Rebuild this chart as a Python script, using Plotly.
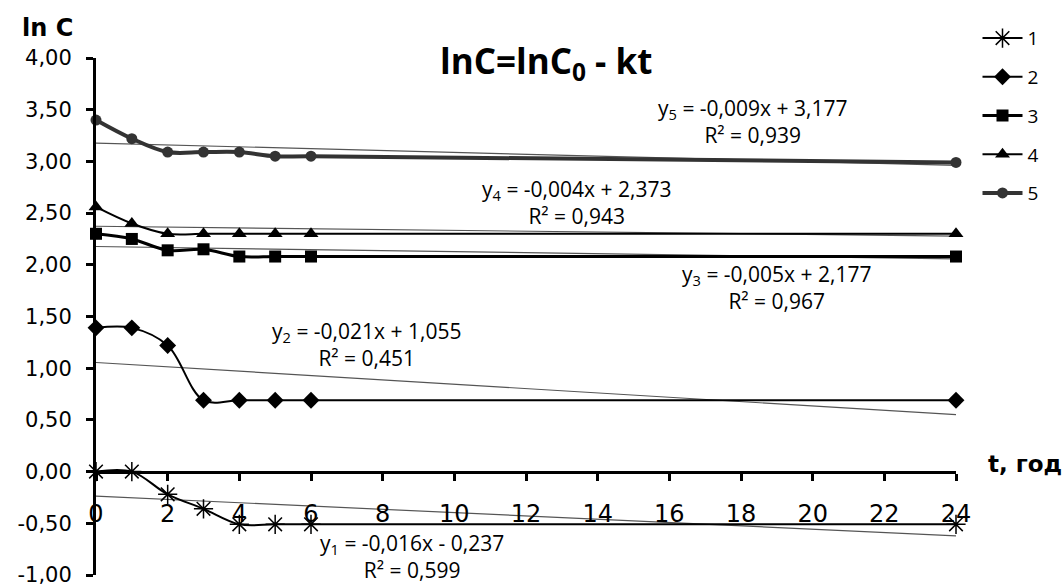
import plotly.graph_objects as go

# Time points, hours
t = [0, 1, 2, 3, 4, 5, 6, 24]

# ln C for each series
ln_c = {
    "1": [0.00, 0.00, -0.22, -0.36, -0.51, -0.51, -0.51, -0.51],
    "2": [1.39, 1.39, 1.22, 0.69, 0.69, 0.69, 0.69, 0.69],
    "3": [2.30, 2.25, 2.14, 2.15, 2.08, 2.08, 2.08, 2.08],
    "4": [2.56, 2.40, 2.30, 2.30, 2.30, 2.30, 2.30, 2.30],
    "5": [3.40, 3.22, 3.09, 3.09, 3.09, 3.05, 3.05, 2.99],
}

# Linear trend coefficients (slope, intercept) and R^2
trend_slope = {"1": -0.016, "2": -0.021, "3": -0.005, "4": -0.004, "5": -0.009}
trend_icpt = {"1": -0.237, "2": 1.055, "3": 2.177, "4": 2.373, "5": 3.177}
trend_r2 = {"1": 0.599, "2": 0.451, "3": 0.967, "4": 0.943, "5": 0.939}

# Label anchor (t, ln C) for each trend equation
eq_pos = {
    "1": (8.82, -0.82),
    "2": (7.54, 1.23),
    "3": (19.0, 1.78),
    "4": (13.42, 2.60),
    "5": (18.31, 3.39),
}

x_ticks = list(range(0, 25, 2))
y_ticks = [-1.0, -0.5, 0.0, 0.5, 1.0, 1.5, 2.0, 2.5, 3.0, 3.5, 4.0]


def fmt(v, nd=2):
    return f"{v:.{nd}f}".replace(".", ",")


styles = {
    "1": dict(line=dict(color="black", width=2),
              marker=dict(symbol="asterisk-open", size=16,
                          line=dict(color="#777777", width=1.5))),
    "2": dict(line=dict(color="black", width=2),
              marker=dict(symbol="diamond", size=13, color="black")),
    "3": dict(line=dict(color="black", width=3),
              marker=dict(symbol="square", size=12, color="black")),
    "4": dict(line=dict(color="black", width=2),
              marker=dict(symbol="triangle-up", size=13, color="black")),
    "5": dict(line=dict(color="#333333", width=4),
              marker=dict(symbol="circle", size=11, color="#333333")),
}

fig = go.Figure()

# Trend lines
for k in ln_c:
    xs = [t[0], t[-1]]
    ys = [trend_icpt[k] + trend_slope[k] * x for x in xs]
    fig.add_trace(go.Scatter(
        x=xs, y=ys, mode="lines", showlegend=False, hoverinfo="skip",
        line=dict(color="#555555", width=1.2),
    ))

# Measured series (smoothed)
for k in ln_c:
    st = styles[k]
    fig.add_trace(go.Scatter(
        x=t, y=ln_c[k], name=k, mode="lines+markers", legendgroup=k,
        line=dict(shape="spline", smoothing=1.0, **st["line"]),
        marker=st["marker"], cliponaxis=False,
    ))

eq_font = dict(family="Open Sans", size=21, color="black")
for k in ln_c:
    sign = "+" if trend_icpt[k] >= 0 else "-"
    text = (f"y<sub>{k}</sub> = -{fmt(abs(trend_slope[k]), 3)}x {sign} "
            f"{fmt(abs(trend_icpt[k]), 3)}<br>R² = {fmt(trend_r2[k], 3)}")
    x0, y0 = eq_pos[k]
    fig.add_annotation(x=x0, y=y0, text=text, showarrow=False,
                       font=eq_font, align="center", xanchor="center",
                       yanchor="middle")

# Title formula
fig.add_annotation(
    xref="paper", yref="paper", x=0.523, y=0.992, xanchor="center", yanchor="middle",
    text="<b>lnC=lnC<sub>0</sub> - kt</b>", showarrow=False,
    font=dict(family="Open Sans", size=35, color="black"),
)
# Axis titles
fig.add_annotation(
    xref="paper", yref="paper", x=-0.056, y=1.058, xanchor="center", yanchor="middle",
    text="<b>ln C</b>", showarrow=False,
    font=dict(family="DejaVu Sans", size=24, color="black"),
)
fig.add_annotation(
    xref="paper", yref="paper", x=1.035, y=0.215, xanchor="left", yanchor="middle",
    text="<b>t, год</b>", showarrow=False,
    font=dict(family="DejaVu Sans", size=23, color="black"),
)

fig.update_layout(
    width=1062, height=585,
    margin=dict(l=96, r=106, t=58, b=10),
    paper_bgcolor="white", plot_bgcolor="white",
    font=dict(family="DejaVu Sans", color="black"),
    showlegend=True,
    legend=dict(
        x=1.025, y=1.075, xanchor="left", yanchor="top",
        font=dict(family="Open Sans", size=19, color="black"),
        tracegroupgap=11, bgcolor="rgba(0,0,0,0)", itemwidth=40,
    ),
    xaxis=dict(
        range=[0, 24], tickvals=x_ticks, ticktext=[str(v) for v in x_ticks],
        anchor="free", position=0.2, showline=True, linecolor="black",
        linewidth=3, ticks="outside", ticklen=7, tickwidth=2.5, tickcolor="black",
        showgrid=False, zeroline=False, ticklabelstandoff=13, automargin=False,
        tickfont=dict(family="DejaVu Sans", size=24, color="black"),
    ),
    yaxis=dict(
        range=[-1, 4], tickvals=y_ticks, ticktext=[fmt(v) for v in y_ticks],
        showline=True, linecolor="black", linewidth=3, ticks="outside",
        ticklen=7, tickwidth=2.5, tickcolor="black", showgrid=False,
        zeroline=False, ticklabelstandoff=10, ticklabeloverflow="allow",
        automargin=False,
        tickfont=dict(family="DejaVu Sans", size=21, color="black"),
    ),
)

fig.write_html("out.html")
